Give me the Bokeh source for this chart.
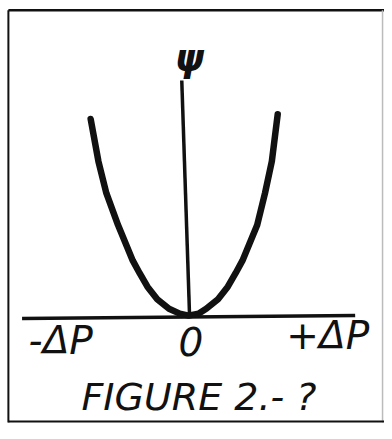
from bokeh.plotting import figure
from bokeh.models import Range1d
from bokeh.core.properties import value
from bokeh.embed import file_html
from bokeh.resources import INLINE

# Curve psi(ΔP) (ΔP in units of the ±ΔP marks)
dp = [-0.737, -0.679, -0.620, -0.533, -0.423, -0.372, -0.314, -0.241, -0.153,
      -0.073, -0.007, 0.066, 0.124, 0.212, 0.285, 0.343, 0.394, 0.504, 0.562,
      0.613, 0.657]
psi = [2.06, 1.62, 1.29, 0.96, 0.59, 0.46, 0.32, 0.19, 0.09,
       0.04, 0.02, 0.04, 0.09, 0.19, 0.32, 0.46, 0.59, 0.96, 1.29,
       1.62, 2.11]

# Axis lines (hand drawn, slightly tilted)
h_axis_x = [-1.248, 1.234]
h_axis_y = [-0.01, 0.02]
v_axis_x = [-0.058, 0.0]
v_axis_y = [2.46, 0.02]

# Tick labels along ΔP
tick_pos = [-0.96, 0.01, 1.03]
tick_mid = [-0.235, -0.25, -0.185]
tick_labels = ["-ΔP", "0", "+ΔP"]

y_label = "ψ"
caption = "FIGURE 2.- ?"

p = figure(width=384, height=423, output_backend="svg", toolbar_location=None,
           x_axis_type=None, y_axis_type=None, min_border=0,
           x_range=Range1d(-1.4088, 1.4526), y_range=Range1d(-1.10, 3.29))
p.grid.visible = False
p.outline_line_color = None
p.background_fill_color = "white"
p.border_fill_color = "white"

ink = "#111111"
# frame drawn around the figure
p.line([-1.350, -1.350], [-1.09, 3.19], line_color=ink, line_width=2)
p.line([-1.350, 1.45], [3.19, 3.19], line_color=ink, line_width=2.5)
p.line([1.438, 1.438], [-1.09, 3.19], line_color="#bbbbbb", line_width=1.5)
p.line([-1.350, 1.45], [-1.08, -1.08], line_color=ink, line_width=2)

p.line(h_axis_x, h_axis_y, line_color=ink, line_width=3.5)
p.line(v_axis_x, v_axis_y, line_color=ink, line_width=3.5)
p.line(dp, psi, line_color=ink, line_width=6.5, line_join="round", line_cap="round")

p.text(x=tick_pos, y=tick_mid, text=tick_labels, text_align="center",
       text_baseline="middle", text_font=value("DejaVu Sans"),
       text_font_style="italic", text_font_size="39px", text_color=ink)
p.text(x=[0.0], y=[2.69], text=[y_label], text_align="center",
       text_baseline="middle", text_font=value("DejaVu Sans"),
       text_font_style="bold italic", text_font_size="37px", text_color=ink)
p.text(x=[0.07], y=[-0.83], text=[caption], text_align="center",
       text_baseline="middle", text_font=value("DejaVu Sans"),
       text_font_style="italic", text_font_size="38px", text_color=ink)

open("out.html", "w").write(file_html(p, INLINE))
